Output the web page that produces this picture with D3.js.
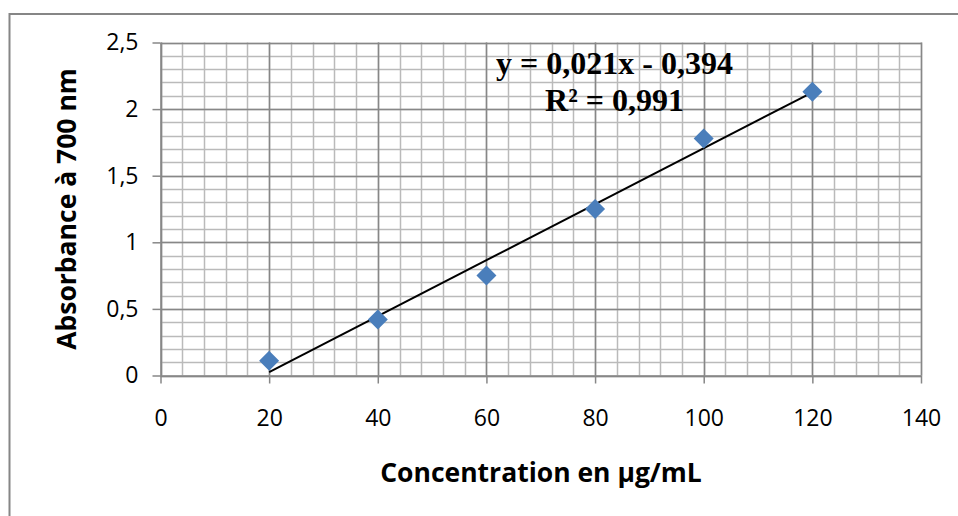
<!DOCTYPE html>
<html>
<head>
<meta charset="utf-8">
<script src="https://cdn.jsdelivr.net/npm/d3@7"></script>
<style>
  html, body { margin: 0; padding: 0; background: #fff; }
  svg { display: block; }
</style>
</head>
<body>
<svg id="chart" width="958" height="516"></svg>
<script>
// ---- Data ----
const concentrations = [20, 40, 60, 80, 100, 120];
const absorbances = [0.11, 0.42, 0.75, 1.25, 1.78, 2.13];
const xTicks = [0, 20, 40, 60, 80, 100, 120, 140];
const yTicks = [0, 0.5, 1, 1.5, 2, 2.5];
const xTickLabels = ["0", "20", "40", "60", "80", "100", "120", "140"];
const yTickLabels = ["0", "0,5", "1", "1,5", "2", "2,5"];
const trendSlope = 0.021;
const trendIntercept = -0.394;
const equationLines = ["y = 0,021x - 0,394", "R\u00B2 = 0,991"];
const xTitle = "Concentration en \u00B5g/mL";
const yTitle = "Absorbance \u00E0 700 nm";

// ---- Layout ----
const svg = d3.select("#chart");
const pLeft = 160.5, pRight = 921, pTop = 42.5, pBottom = 375.5;
const x = d3.scaleLinear().domain([0, 140]).range([pLeft, pRight]);
const y = d3.scaleLinear().domain([0, 2.5]).range([pBottom, pTop]);

// outer border (top and left only, as in reference)
svg.append("line").attr("x1", 9.5).attr("x2", 958).attr("y1", 14).attr("y2", 14)
  .attr("stroke", "#868686").attr("stroke-width", 2);
svg.append("line").attr("x1", 9.5).attr("x2", 9.5).attr("y1", 13).attr("y2", 516)
  .attr("stroke", "#868686").attr("stroke-width", 2);

// minor grid
const minorX = d3.range(0, 140.001, 4);
const minorY = d3.range(0, 2.5001, 0.1);
const g = svg.append("g");
g.selectAll(".mx").data(minorX).enter().append("line")
  .attr("x1", d => Math.round(x(d)) + 0.5).attr("x2", d => Math.round(x(d)) + 0.5)
  .attr("y1", pTop).attr("y2", pBottom)
  .attr("stroke", "#bababa").attr("stroke-width", 1.5);
g.selectAll(".my").data(minorY).enter().append("line")
  .attr("y1", d => Math.round(y(d)) + 0.5).attr("y2", d => Math.round(y(d)) + 0.5)
  .attr("x1", pLeft).attr("x2", pRight)
  .attr("stroke", "#bababa").attr("stroke-width", 1.5);
// major grid
g.selectAll(".Mx").data(xTicks).enter().append("line")
  .attr("x1", d => Math.round(x(d)) + 0.5).attr("x2", d => Math.round(x(d)) + 0.5)
  .attr("y1", pTop).attr("y2", pBottom)
  .attr("stroke", "#878787").attr("stroke-width", 1.5);
g.selectAll(".My").data(yTicks).enter().append("line")
  .attr("y1", d => Math.round(y(d)) + 0.5).attr("y2", d => Math.round(y(d)) + 0.5)
  .attr("x1", pLeft).attr("x2", pRight)
  .attr("stroke", "#878787").attr("stroke-width", 1.5);

// axes
const xAxis = d3.axisBottom(x).tickValues(xTicks)
  .tickFormat((d, i) => xTickLabels[i]).tickSizeInner(8).tickSizeOuter(0).tickPadding(26);
const yAxis = d3.axisLeft(y).tickValues(yTicks)
  .tickFormat((d, i) => yTickLabels[i]).tickSizeInner(8).tickSizeOuter(0).tickPadding(14);

const gx = svg.append("g").attr("transform", `translate(0,${pBottom})`).call(xAxis);
const gy = svg.append("g").attr("transform", `translate(${pLeft},0)`).call(yAxis);
[gx, gy].forEach(a => {
  a.select(".domain").attr("stroke", "#878787").attr("stroke-width", 1.5);
  a.selectAll(".tick line").attr("stroke", "#878787").attr("stroke-width", 1.5);
  a.selectAll(".tick text").attr("fill", "#000")
    .style("font-family", "'Open Sans', 'Noto Sans', sans-serif").style("font-size", "23px");
});

// trendline
const xMin = d3.min(concentrations), xMax = d3.max(concentrations);
svg.append("line")
  .attr("x1", x(xMin)).attr("y1", y(trendSlope * xMin + trendIntercept))
  .attr("x2", x(xMax)).attr("y2", y(trendSlope * xMax + trendIntercept))
  .attr("stroke", "#000").attr("stroke-width", 2);

// markers
const r = 10;
svg.selectAll(".pt").data(concentrations).enter().append("path")
  .attr("d", (d, i) => {
    const cx = x(d), cy = y(absorbances[i]);
    return `M${cx},${cy - r}L${cx + r},${cy}L${cx},${cy + r}L${cx - r},${cy}Z`;
  })
  .attr("fill", "#4a7ebb");

// equation
const eq = svg.append("text")
  .attr("text-anchor", "middle")
  .style("font-family", "'Liberation Serif', 'Times New Roman', serif")
  .style("font-weight", "bold").style("font-size", "32px");
eq.selectAll("tspan").data(equationLines).enter().append("tspan")
  .attr("x", 614.5).attr("y", (d, i) => i === 0 ? 74 : 111).text(d => d);

// axis titles
svg.append("text").attr("x", 541).attr("y", 482).attr("text-anchor", "middle")
  .style("font-family", "'Open Sans', 'Noto Sans', sans-serif")
  .style("font-weight", "bold").style("font-size", "26.5px").text(xTitle);
svg.append("text").attr("transform", "translate(76,209) rotate(-90)").attr("text-anchor", "middle")
  .style("font-family", "'Open Sans', 'Noto Sans', sans-serif")
  .style("font-weight", "bold").style("font-size", "26.5px").text(yTitle);
</script>
</body>
</html>
